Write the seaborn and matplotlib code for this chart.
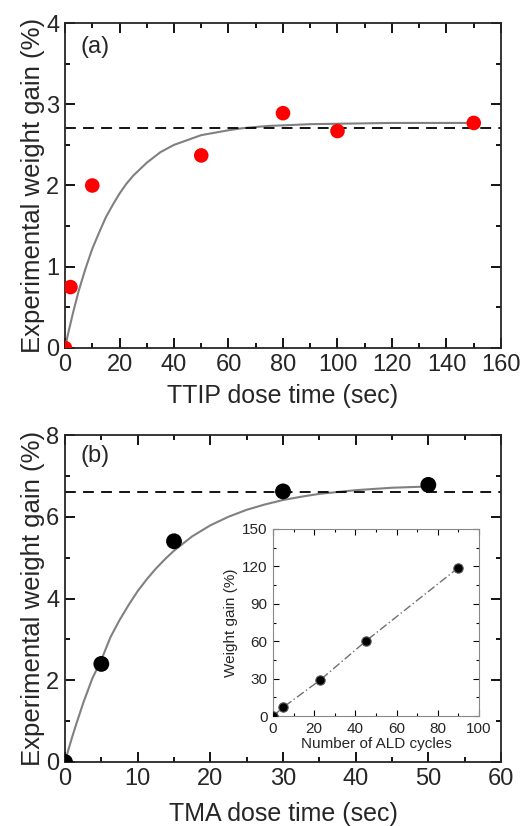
import numpy as np
import pandas as pd
import seaborn as sns
import matplotlib.pyplot as plt
from matplotlib.ticker import MultipleLocator

sns.set_style('ticks')
plt.rcParams['font.family'] = ['Liberation Sans', 'DejaVu Sans']

# (a) TTIP dose
ttip_time = [0, 2, 10, 50, 80, 100, 150]
ttip_gain = [0, 0.75, 2.0, 2.37, 2.89, 2.67, 2.77]
ttip_fit_x = [0, 1, 2, 3, 5, 7.5, 10, 12.5, 15, 17.5, 20, 22.5, 25, 27.5, 30, 35, 40, 45,
              50, 55, 60, 65, 70, 75, 80, 90, 100, 120, 150]
ttip_fit_y = [0, 0.156, 0.30, 0.441, 0.70, 0.975, 1.22, 1.42, 1.61, 1.76, 1.90, 2.02, 2.12, 2.20, 2.28, 2.41, 2.50, 2.56,
              2.62, 2.65, 2.68, 2.705, 2.72, 2.734, 2.74, 2.755, 2.76, 2.77, 2.77]
ttip_sat = 2.71

# (b) TMA dose
tma_time = [0, 5, 15, 30, 50]
tma_gain = [0, 2.4, 5.4, 6.62, 6.78]
tma_fit_x = [0, 0.5, 1, 1.5, 2.5, 3.75, 5, 6.25, 7.5, 8.75, 10, 11.25, 12.5, 13.75, 15, 17.5, 20,
             22.5, 25, 27.5, 30, 32.5, 35, 40, 45, 50]
tma_fit_y = [0, 0.32, 0.62, 0.90, 1.44, 2.04, 2.50, 3.05, 3.47, 3.84, 4.18, 4.47, 4.73, 4.96, 5.17, 5.52, 5.79,
             6.00, 6.17, 6.30, 6.41, 6.49, 6.56, 6.65, 6.71, 6.74]
tma_sat = 6.6

# inset: ALD cycles
ald_cycles = [0, 5, 23, 45, 90]
ald_gain = [0, 7, 29, 60, 119]


def style_axes(ax, xmaj, xmin, ymaj, ymin, lsize, width=1.3, length=7):
    ax.xaxis.set_major_locator(MultipleLocator(xmaj))
    ax.xaxis.set_minor_locator(MultipleLocator(xmin))
    ax.yaxis.set_major_locator(MultipleLocator(ymaj))
    ax.yaxis.set_minor_locator(MultipleLocator(ymin))
    ax.tick_params(which='both', direction='in', top=True, right=True, width=width,
                   labelsize=lsize, color='black')
    ax.tick_params(which='major', length=length, pad=4)
    ax.tick_params(which='minor', length=length * 0.55)
    for sp in ax.spines.values():
        sp.set_linewidth(width)


fig = plt.figure(figsize=(5.27, 8.26), dpi=100)
ax1 = fig.add_axes([65 / 527, 1 - 348 / 826, 436 / 527, 325 / 826])
ax2 = fig.add_axes([65 / 527, 1 - 762 / 826, 436 / 527, 327 / 826])
ax3 = fig.add_axes([273 / 527, 1 - 716 / 826, 206 / 527, 187 / 826])

# panel (a)
sns.lineplot(x=ttip_fit_x, y=ttip_fit_y, ax=ax1, color='#808080', lw=1.5)
ax1.axhline(ttip_sat, color='black', ls=(0, (6, 4)), lw=1.3)
sns.scatterplot(x=ttip_time, y=ttip_gain, ax=ax1, color='red', s=110, edgecolor='none', zorder=3)
ax1.set_xlim(0, 160)
ax1.set_ylim(0, 4)
style_axes(ax1, 20, 10, 1, 0.5, 17)
ax1.set_xlabel('TTIP dose time (sec)', fontsize=18, labelpad=6)
ax1.set_ylabel('Experimental weight gain (%)', fontsize=18.5, labelpad=1)
ax1.text(0.035, 0.96, '(a)', transform=ax1.transAxes, fontsize=17, va='top')

# panel (b)
sns.lineplot(x=tma_fit_x, y=tma_fit_y, ax=ax2, color='#808080', lw=1.5)
ax2.axhline(tma_sat, color='black', ls=(0, (6, 4)), lw=1.3)
sns.scatterplot(x=tma_time, y=tma_gain, ax=ax2, color='black', s=130, edgecolor='none', zorder=3)
ax2.set_xlim(0, 60)
ax2.set_ylim(0, 8)
style_axes(ax2, 10, 5, 2, 1, 17)
ax2.set_xlabel('TMA dose time (sec)', fontsize=18, labelpad=9)
ax2.set_ylabel('Experimental weight gain (%)', fontsize=18.5, labelpad=1)
ax2.text(0.035, 0.97, '(b)', transform=ax2.transAxes, fontsize=17, va='top')

# inset
sns.lineplot(x=ald_cycles, y=ald_gain, ax=ax3, color='#707070', lw=1.0, ls=(0, (6, 2, 1, 2)))
sns.scatterplot(x=ald_cycles, y=ald_gain, ax=ax3, color='black', s=45, edgecolor='#555555', linewidth=0.8, zorder=3)
ax3.set_xlim(0, 100)
ax3.set_ylim(0, 150)
style_axes(ax3, 20, 10, 30, 15, 11, width=0.8, length=4)
for sp in ax3.spines.values():
    sp.set_color('#888888')
ax3.set_xlabel('Number of ALD cycles', fontsize=11, labelpad=1)
ax3.set_ylabel('Weight gain (%)', fontsize=11, labelpad=3)

fig.savefig('out.png', dpi=100)
